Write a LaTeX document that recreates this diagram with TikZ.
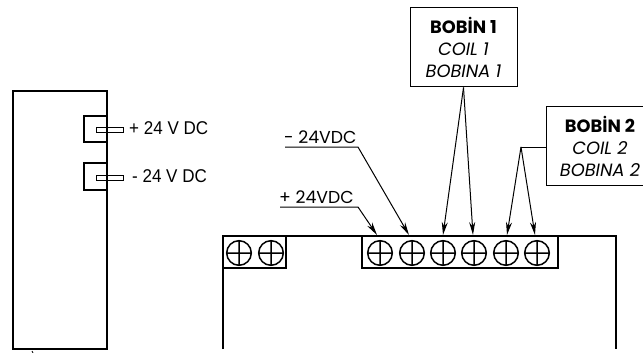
\documentclass[tikz,border=0pt]{standalone}
\usepackage{fontspec}
\setmainfont{Poppins}
\newfontfamily\narrowfont[FakeStretch=0.92]{Liberation Sans}
\usetikzlibrary{arrows.meta}
\tikzset{
  wire/.style={-{Stealth[length=13pt,width=6pt]},line width=1pt},
  callout/.style={draw,line width=1pt,align=center,font=\fontsize{17.8pt}{22pt}\selectfont,inner sep=0pt,minimum width=107pt,minimum height=79pt},
  pinlabel/.style={font=\narrowfont\fontsize{18.5pt}{20pt}\selectfont,anchor=west,inner sep=0pt},
  leaderlabel/.style={font=\fontsize{17.3pt}{20pt}\selectfont,anchor=base west,inner sep=0pt}
}
\begin{document}
\begin{tikzpicture}[x=1pt,y=-1pt,line join=miter]
  \useasboundingbox (0,0) rectangle (643,353);
  % left unit
  \draw[line width=1.7pt] (13,349)--(13,91)--(107,91)--(107,349)--cycle;
  \draw[line width=1.7pt] (107,116)--(84,116)--(84,142)--(107,142);
  \draw[line width=1.7pt] (107,163)--(84,163)--(84,190)--(107,190);
  \draw[line width=1pt] (96,127) rectangle (123,132);
  \draw[line width=1pt] (96,175) rectangle (123,180);
  \draw[line width=0.8pt] (32,351)--(33,353);
  \node[pinlabel] (plusdc) at (129,128) {+ 24 V DC};
  \node[pinlabel] (minusdc) at (132,176) {- 24 V DC};
  % right unit
  \draw[line width=1.3pt] (223,349)--(223,236)--(616,236)--(616,349);
  \draw[line width=1.3pt] (223,268)--(286,268)--(286,236);
  \draw[line width=1.3pt] (362,236)--(362,268)--(558,268)--(558,236);
  \foreach \sx in {239,271,380,412,443,474,506,537}
    \draw[line width=1.5pt] (\sx,253) circle (12.3pt) (\sx-12,253)--(\sx+12,253) (\sx,241)--(\sx,265);
  % leaders
  \node[leaderlabel] (plusvdc) at (279,203) {+ 24VDC};
  \node[leaderlabel] (minusvdc) at (284,143) {- 24VDC};
  \coordinate (plusend) at (377,235);
  \coordinate (minusend) at (409,235);
  \draw[wire] (280,207)--(358,207)--(plusend);
  \draw[wire] (285,147)--(358,147)--(minusend);
  % coils
  \node[callout] (coila) at (463.5,47.5) {\textbf{BOBİN 1}\\\textit{COIL 1}\\\textit{BOBINA 1}};
  \node[callout] (coilb) at (600,146) {\textbf{BOBİN 2}\\\textit{COIL 2}\\\textit{BOBINA 2}};
  \coordinate (splitb) at (521,147);
  \coordinate (enda) at (443,235);
  \coordinate (endb) at (473,235);
  \coordinate (endc) at (507,235);
  \coordinate (endd) at (535,235);
  \draw[wire] (coila.south)--(enda);
  \draw[wire] (coila.south)--(endb);
  \draw[line width=1pt] (coilb.west|-splitb)--(splitb);
  \draw[wire] (splitb)--(endc);
  \draw[wire] (splitb)--(endd);
\end{tikzpicture}
\end{document}
